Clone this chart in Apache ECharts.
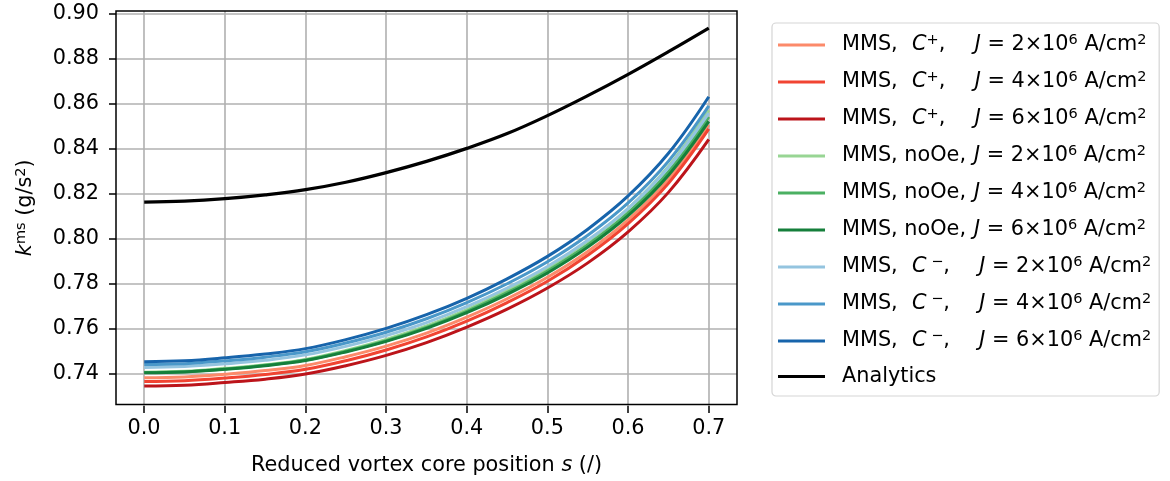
<!DOCTYPE html>
<html>
<head>
<meta charset="utf-8">
<script src="https://cdn.jsdelivr.net/npm/echarts@6/dist/echarts.min.js"></script>
<style>
  html, body { margin: 0; padding: 0; background: #fff; }
  #container { width: 1170px; height: 481px; }
</style>
</head>
<body>
<div id="container"></div>
<script>
// reduced vortex core position s
var sVals = [0, 0.05, 0.1, 0.15, 0.2, 0.25, 0.3, 0.35, 0.4, 0.45, 0.5, 0.55, 0.6, 0.65, 0.7];

// k^ms, one array per curve
var kCplusJ2 = [0.7378, 0.7382, 0.7394, 0.7410, 0.7433, 0.7472, 0.7519, 0.7577, 0.7648, 0.7730, 0.7826, 0.7941, 0.8082, 0.8263, 0.8505];
var kCplusJ4 = [0.7361, 0.7365, 0.7377, 0.7393, 0.7416, 0.7454, 0.7502, 0.7560, 0.7630, 0.7713, 0.7808, 0.7924, 0.8065, 0.8245, 0.8487];
var kCplusJ6 = [0.7341, 0.7345, 0.7357, 0.7372, 0.7395, 0.7432, 0.7478, 0.7535, 0.7604, 0.7684, 0.7778, 0.7890, 0.8028, 0.8204, 0.8440];
var kNoOeJ2  = [0.7403, 0.7407, 0.7420, 0.7436, 0.7460, 0.7500, 0.7549, 0.7609, 0.7682, 0.7768, 0.7867, 0.7987, 0.8132, 0.8320, 0.8570];
var kNoOeJ4  = [0.7401, 0.7405, 0.7417, 0.7434, 0.7457, 0.7496, 0.7543, 0.7602, 0.7674, 0.7757, 0.7854, 0.7971, 0.8113, 0.8296, 0.8540];
var kNoOeJ6  = [0.7400, 0.7404, 0.7416, 0.7432, 0.7455, 0.7493, 0.7540, 0.7598, 0.7668, 0.7750, 0.7845, 0.7960, 0.8100, 0.8280, 0.8520];
var kCminJ2  = [0.7424, 0.7428, 0.7440, 0.7456, 0.7480, 0.7518, 0.7566, 0.7624, 0.7695, 0.7778, 0.7874, 0.7991, 0.8132, 0.8315, 0.8557];
var kCminJ4  = [0.7437, 0.7441, 0.7453, 0.7470, 0.7494, 0.7533, 0.7581, 0.7641, 0.7713, 0.7797, 0.7895, 0.8013, 0.8157, 0.8343, 0.8589];
var kCminJ6  = [0.7450, 0.7454, 0.7467, 0.7484, 0.7508, 0.7548, 0.7598, 0.7659, 0.7732, 0.7819, 0.7919, 0.8040, 0.8188, 0.8378, 0.8630];
var kAnalytics = [0.8161, 0.8165, 0.8176, 0.8193, 0.8216, 0.8249, 0.8292, 0.8342, 0.8400, 0.8466, 0.8546, 0.8635, 0.8730, 0.8831, 0.8936];

var seriesNames = ['C+ J2', 'C+ J4', 'C+ J6', 'noOe J2', 'noOe J4', 'noOe J6', 'C- J2', 'C- J4', 'C- J6', 'Analytics'];
var seriesData = [kCplusJ2, kCplusJ4, kCplusJ6, kNoOeJ2, kNoOeJ4, kNoOeJ6, kCminJ2, kCminJ4, kCminJ6, kAnalytics];
var seriesColors = ['#fc8a6a', '#f14432', '#bc141a', '#98d594', '#4bb062', '#157f3b', '#94c4df', '#4a98c9', '#1764ab', '#000000'];

var xTicks = [0, 0.7, 0.1];      // min, max, step
var yTicks = [0.74, 0.90, 0.02];

// legend labels (rich text)
function jPart(j) {
  return '{i|J}{n| = ' + j + '×10}{sup|6}{n| A/cm}{sup|2}';
}
var legendLabels = [
  '{m|MMS,}{i|C}{sup|+}{cm|,}' + jPart(2),
  '{m|MMS,}{i|C}{sup|+}{cm|,}' + jPart(4),
  '{m|MMS,}{i|C}{sup|+}{cm|,}' + jPart(6),
  '{m2|MMS, noOe,}' + jPart(2),
  '{m2|MMS, noOe,}' + jPart(4),
  '{m2|MMS, noOe,}' + jPart(6),
  '{m|MMS,}{i|C}{sup| −}{cm|,}' + jPart(2),
  '{m|MMS,}{i|C}{sup| −}{cm|,}' + jPart(4),
  '{m|MMS,}{i|C}{sup| −}{cm|,}' + jPart(6),
  '{a|Analytics}'
];

var FONT = 'DejaVu Sans';
var FS = 20.8;
var base = {fontFamily: FONT, fontSize: FS, color: '#000', lineHeight: 24};
function st(extra) { return Object.assign({}, base, extra); }
var rich = {
  n: st({}),
  i: st({fontStyle: 'italic'}),
  sup: st({fontSize: 14.5, lineHeight: 10, padding: [0, 0, 14, 0], verticalAlign: 'top'}),
  m: st({width: 70, padding: [0, 0, 0, 12]}),
  m2: st({width: 132, padding: [0, 0, 0, 12]}),
  cm: st({width: 36}),
  a: st({padding: [0, 0, 0, 12]})
};

var series = seriesNames.map(function (name, idx) {
  return {
    name: name,
    type: 'line',
    xAxisIndex: 0,
    yAxisIndex: 0,
    data: sVals.map(function (s, k) { return [s, seriesData[idx][k]]; }),
    showSymbol: false,
    smooth: 0.4,
    color: seriesColors[idx],
    lineStyle: {width: idx === 9 ? 3.2 : 3, color: seriesColors[idx]},
    z: 5 + idx
  };
});

var gridCol = '#b0b0b0';
var option = {
  animation: false,
  backgroundColor: '#fff',
  grid: [
    {left: 116, right: 433, top: 11, bottom: 75, show: true, borderColor: '#000', borderWidth: 1.5, backgroundColor: 'transparent', z: 4},
    {left: 144, right: 461.3, top: 11, bottom: 75},
    {left: 116, right: 433, top: 14, bottom: 107}
  ],
  legend: {
    orient: 'vertical',
    left: 772,
    top: 23,
    padding: [10, 8, 9, 6],
    itemGap: 8,
    itemWidth: 47,
    itemHeight: 3,
    icon: 'rect',
    borderColor: '#d5d5d5',
    borderWidth: 1.2,
    borderRadius: 4,
    backgroundColor: '#fff',
    data: seriesNames,
    formatter: function (name) { return legendLabels[seriesNames.indexOf(name)]; },
    textStyle: {fontFamily: FONT, fontSize: FS, color: '#000', rich: rich}
  },
  xAxis: [
    {
      gridIndex: 0, type: 'value', min: -0.035, max: 0.735,
      axisLine: {show: false}, axisTick: {show: false}, axisLabel: {show: false}, splitLine: {show: false},
      name: '{n|Reduced vortex core position }{i|s}{n| (/)}',
      nameLocation: 'middle', nameGap: 49,
      nameTextStyle: {fontFamily: FONT, fontSize: FS, color: '#000', rich: rich}
    },
    {
      gridIndex: 1, type: 'value', min: xTicks[0], max: xTicks[1], interval: xTicks[2],
      axisLine: {show: false},
      axisTick: {show: true, length: 7, lineStyle: {color: '#000', width: 1.5}},
      axisLabel: {margin: 12, fontFamily: FONT, fontSize: FS, color: '#000',
        formatter: function (v) { return v.toFixed(1); }},
      splitLine: {show: true, lineStyle: {color: gridCol, width: 1.6}}
    },
    {gridIndex: 2, type: 'value', min: 0, max: 1, show: false}
  ],
  yAxis: [
    {
      gridIndex: 0, type: 'value', min: 0.7259, max: 0.9012,
      axisLine: {show: false}, axisTick: {show: false}, axisLabel: {show: false}, splitLine: {show: false},
      name: '{i|k}{sup|ms}{n| (g/s}{sup|2}{n|)}',
      nameLocation: 'middle', nameGap: 78,
      nameTextStyle: {fontFamily: FONT, fontSize: FS, color: '#000', rich: rich}
    },
    {gridIndex: 1, type: 'value', min: 0, max: 1, show: false},
    {
      gridIndex: 2, type: 'value', min: yTicks[0], max: yTicks[1], interval: yTicks[2],
      axisLine: {show: false},
      axisTick: {show: true, length: 7, lineStyle: {color: '#000', width: 1.5}},
      axisLabel: {margin: 17, fontFamily: FONT, fontSize: FS, color: '#000',
        formatter: function (v) { return v.toFixed(2); }},
      splitLine: {show: true, lineStyle: {color: gridCol, width: 1.6}}
    }
  ],
  series: series
};

var myChart = echarts.init(document.getElementById('container'), null, {renderer: 'canvas'});
myChart.setOption(option);
</script>
</body>
</html>
